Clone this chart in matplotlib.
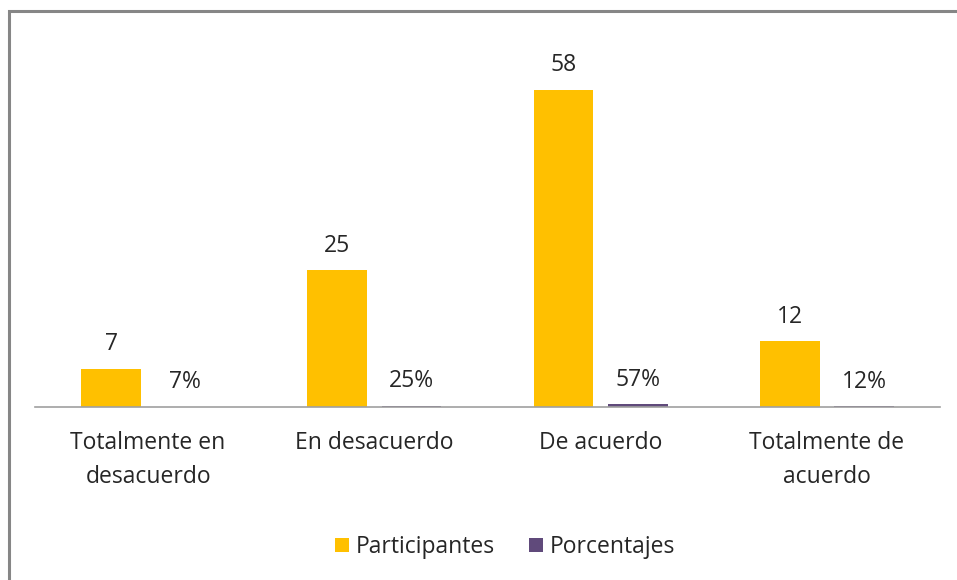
import matplotlib
matplotlib.use("Agg")
import matplotlib.pyplot as plt
from matplotlib.patches import Rectangle
import numpy as np

categories = ["Totalmente en\ndesacuerdo", "En desacuerdo", "De acuerdo", "Totalmente de\nacuerdo"]
participantes = [7, 25, 58, 12]
porcentajes = [0.07, 0.25, 0.57, 0.12]
porcentaje_labels = ["7%", "25%", "57%", "12%"]

plt.rcParams['font.family'] = ['Open Sans', 'DejaVu Sans']
txt = '#262626'
fs = 16.5

fig = plt.figure(figsize=(9.57, 5.8), dpi=100)
ax = fig.add_axes([35/957, 1-407/580, 905/957, (407-24)/580])

x = np.arange(len(categories))
w = 0.265
off = 0.164
b1 = ax.bar(x - off, participantes, w, color='#FFC000', label='Participantes')
b2 = ax.bar(x + off, porcentajes, w, color='#604A7B', label='Porcentajes')

for xi, v in zip(x, participantes):
    ax.annotate(str(v), (xi - off, v), xytext=(0, 17.5), textcoords='offset points',
                ha='center', va='center', fontsize=fs, color=txt)
for xi, v, l in zip(x, porcentajes, porcentaje_labels):
    ax.annotate(l, (xi + off, v), xytext=(0, 17.5), textcoords='offset points',
                ha='center', va='center', fontsize=fs, color=txt)

ax.set_xlim(-0.5, 3.5)
ax.set_ylim(0, 70)
ax.set_xticks(x)
ax.set_xticklabels(categories, fontsize=fs, color=txt, linespacing=1.55)
ax.tick_params(axis='x', length=0, pad=17)
ax.set_yticks([])
for s in ['top', 'right', 'left']:
    ax.spines[s].set_visible(False)
ax.spines['bottom'].set_color('#A0A0A0')
ax.spines['bottom'].set_linewidth(1.2)

leg = fig.legend(handles=[b1, b2], loc='center', bbox_to_anchor=(505/957, 1-547/580),
                 ncol=2, frameon=False, fontsize=fs, handlelength=0.6, handleheight=0.6,
                 handletextpad=0.3, columnspacing=1.5)
for t in leg.get_texts():
    t.set_color(txt)

fig.patches.append(Rectangle((9/957, -0.1), 1.2, 1 - 11/580 + 0.1, transform=fig.transFigure,
                             fill=False, edgecolor='#868686', linewidth=2.2))

fig.savefig('out.png', dpi=100)
